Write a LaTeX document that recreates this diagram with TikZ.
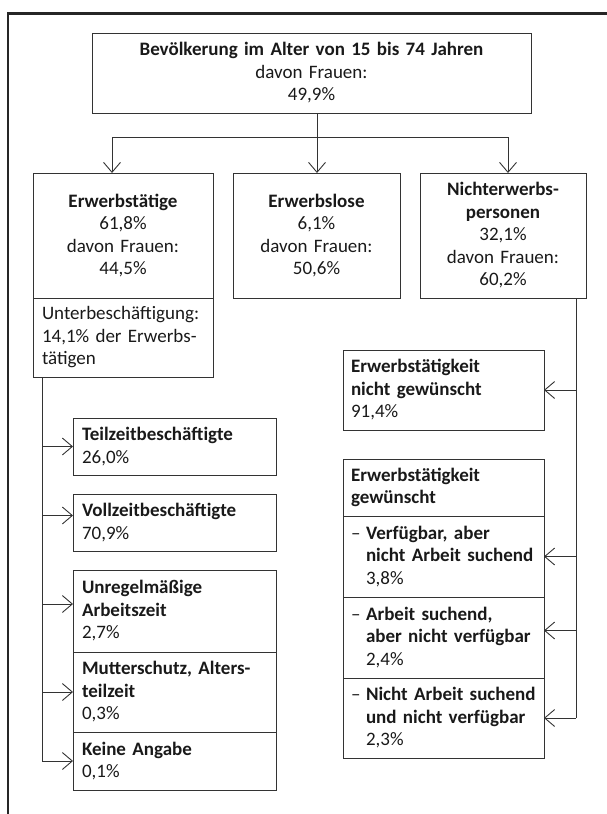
\documentclass[tikz,border=0pt]{standalone}
\usepackage{fontspec}
\setmainfont{Carlito}
\usetikzlibrary{arrows.meta}
\tikzset{
  bx/.style={draw=black!80, line width=0.9pt, anchor=north west, inner xsep=8pt,
    inner ysep=0pt, outer sep=0pt, text=black!90, font=\fontsize{19}{22.5}\selectfont},
  cbx/.style={bx, align=center},
  lbx/.style={bx, align=left},
  conn/.style={draw=black!80, line width=0.9pt},
  arr/.style={conn, -{Straight Barb[length=10pt,width=17pt]}},
  frame/.style={draw=black!85, line width=2.4pt}
}
\newcommand{\bt}[1]{\mbox{\bfseries #1}}
\newcommand{\rt}[1]{\mbox{#1}}
\newcommand{\dashitem}[3]{\mbox{\makebox[15pt][l]{–}\bfseries #1}\\\mbox{\hspace*{15pt}\bfseries #2}\\\mbox{\hspace*{15pt}#3}}
\begin{document}
\begin{tikzpicture}[x=1pt,y=-1pt]
\useasboundingbox (0,0) rectangle (607,814);
\draw[frame] (612,13.5) -- (8,13.5) -- (8,820);

% top
\node[cbx, text width=423pt, minimum height=80pt] (top) at (92,33)
  {\bt{Bevölkerung im Alter von 15 bis 74 Jahren}\\davon Frauen:\\49,9\%};

% level 2
\node[cbx, text width=164pt, minimum height=125pt] (ewt) at (33,173)
  {\bt{Erwerbstätige}\\61,8\%\\\rt{davon Frauen:}\\44,5\%};
\node[lbx, inner xsep=9pt, text width=162pt, minimum height=79pt] (ub) at (33,298)
  {\rt{Unterbeschäftigung:}\\\rt{14,1\% der Erwerbs-}\\\rt{tätigen}};
\node[cbx, text width=151pt, minimum height=125pt] (ewl) at (233,173)
  {\bt{Erwerbslose}\\6,1\%\\\rt{davon Frauen:}\\50,6\%};
\node[cbx, text width=150pt, minimum height=125pt] (nep) at (420,173)
  {\bt{Nichterwerbs-}\\\bt{personen}\\32,1\%\\\rt{davon Frauen:}\\60,2\%};

% right column
\node[lbx, text width=185pt, minimum height=80pt] (ng) at (343,350)
  {\bt{Erwerbstätigkeit}\\\bt{nicht gewünscht}\\91,4\%};
\node[lbx, text width=185pt, minimum height=57pt] (gw) at (343,459)
  {\bt{Erwerbstätigkeit}\\\bt{gewünscht}};
\node[lbx, text width=185pt, minimum height=81pt] (v1) at (343,516)
  {\dashitem{Verfügbar, aber}{nicht Arbeit suchend}{3,8\%}};
\node[lbx, text width=185pt, minimum height=81pt] (v2) at (343,597)
  {\dashitem{Arbeit suchend,}{aber nicht verfügbar}{2,4\%}};
\node[lbx, text width=185pt, minimum height=80pt] (v3) at (343,678)
  {\dashitem{Nicht Arbeit suchend}{und nicht verfügbar}{2,3\%}};

% left column
\node[lbx, inner xsep=9pt, text width=185pt, minimum height=57pt] (tz) at (73,418)
  {\bt{Teilzeitbeschäftigte}\\26,0\%};
\node[lbx, inner xsep=9pt, text width=185pt, minimum height=57pt] (vz) at (73,494)
  {\bt{Vollzeitbeschäftigte}\\70,9\%};
\node[lbx, inner xsep=9pt, text width=185pt, minimum height=82pt] (ur) at (73,570)
  {\bt{Unregelmäßige}\\\bt{Arbeitszeit}\\2,7\%};
\node[lbx, inner xsep=9pt, text width=185pt, minimum height=80pt] (ms) at (73,652)
  {\bt{Mutterschutz, Alters-}\\\bt{teilzeit}\\0,3\%};
\node[lbx, inner xsep=9pt, text width=185pt, minimum height=58pt] (ka) at (73,732)
  {\bt{Keine Angabe}\\0,1\%};

% top connectors
\coordinate (j) at (317,137);
\draw[arr] (top.south -| j) -- (ewl.north -| j);
\coordinate (a1) at ([xshift=-11pt]ewt.north);
\coordinate (a3) at ([xshift=5pt]nep.north);
\draw[arr] (j) -| (a1);
\draw[arr] (j) -| (a3);

% right connectors
\coordinate (rx) at (576,0);
\coordinate (rend) at (v3.east -| rx);
\draw[conn] (nep.south -| rx) -- (rend);
\draw[arr] (ng.east -| rx) -- (ng.east);
\draw[arr] (v1.east -| rx) -- (v1.east);
\coordinate (v2e) at ([yshift=7pt]v2.east);
\draw[arr] (v2e -| rx) -- (v2e);
\draw[arr] (rend) -- (v3.east);

% left connectors
\coordinate (lx) at (42,0);
\coordinate (lend) at (ka.west -| lx);
\draw[conn] (ub.south -| lx) -- (lend);
\draw[arr] (tz.west -| lx) -- (tz.west);
\coordinate (vze) at ([yshift=7pt]vz.west);
\draw[arr] (vze -| lx) -- (vze);
\coordinate (ure) at ([yshift=7pt]ur.west);
\draw[arr] (ure -| lx) -- (ure);
\draw[arr] (ms.west -| lx) -- (ms.west);
\draw[arr] (lend) -- (ka.west);
\end{tikzpicture}
\end{document}
